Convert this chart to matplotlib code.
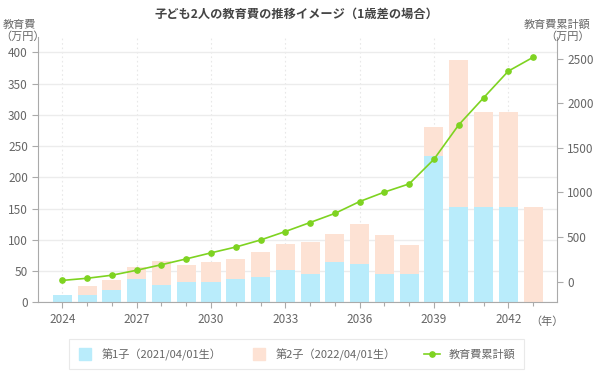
import numpy as np
import matplotlib
matplotlib.use("Agg")
import matplotlib.pyplot as plt
from matplotlib.lines import Line2D
from matplotlib.ticker import MultipleLocator

plt.rcParams['font.family'] = ['Noto Sans CJK JP', 'DejaVu Sans']

years = list(range(2024, 2044))
child1 = [11, 12, 20, 37, 27, 32, 33, 37, 41, 52,
          46, 64, 62, 46, 46, 234, 152, 152, 152, 0]
child2 = [0, 14, 15, 20, 39, 28, 32, 33, 40, 42,
          50, 46, 64, 62, 46, 46, 235, 152, 152, 152]
cumulative = [14, 38, 72, 128, 190, 255, 323, 388, 467, 562,
              663, 765, 898, 1004, 1096, 1372, 1758, 2060, 2360, 2515]

title = "子ども2人の教育費の推移イメージ（1歳差の場合）"
label1 = "第1子（2021/04/01生）"
label2 = "第2子（2022/04/01生）"
label3 = "教育費累計額"

blue = "#b9ecfb"
pink = "#fde2d4"
green = "#7ed321"
tick_col = "#666666"
spine_col = "#aaaaaa"

fig = plt.figure(figsize=(5.93, 3.77), dpi=100)
ax = fig.add_axes([0.0646, 0.198, 0.874, 0.703])
ax2 = ax.twinx()

ax.bar(years, child1, width=0.77, color=blue, zorder=2)
ax.bar(years, child2, width=0.77, bottom=child1, color=pink, zorder=2)
ax2.plot(years, cumulative, color=green, lw=1.2, marker='o', ms=3.8, zorder=3)

ax.set_xlim(2023.03, 2043.95)
ax.set_ylim(0, 424)
ax2.set_ylim(-232, 2739)

ax.set_yticks(range(0, 401, 50))
ax2.set_yticks(range(0, 2501, 500))
ax.set_xticks(range(2024, 2043, 3))
ax.xaxis.set_minor_locator(MultipleLocator(1))

ax.grid(axis='y', color='#ececec', lw=1, zorder=0)
ax.grid(axis='x', color='#e8e8e8', lw=0.8, ls=(0, (1.5, 2.5)), zorder=0)
ax.set_axisbelow(True)

for a in (ax, ax2):
    a.spines['top'].set_visible(False)
    for s in ('left', 'right', 'bottom'):
        a.spines[s].set_color(spine_col)
    a.tick_params(colors=tick_col, labelsize=8.5, length=4, width=0.8)
ax.spines['right'].set_visible(False)
ax2.spines['left'].set_visible(False)
ax2.spines['bottom'].set_visible(False)
ax.tick_params(axis='x', which='minor', length=3, width=0.8, color=spine_col)
ax.tick_params(axis='x', which='major', color=spine_col, pad=4)
ax.tick_params(axis='y', color=spine_col)
ax2.tick_params(axis='y', color=spine_col)

fig.text(0.5, 0.962, title, ha='center', va='center', fontsize=8.8,
         fontweight='bold', color='#444444')
fig.text(0.004, 0.935, "教育費", ha='left', va='center', fontsize=8, color=tick_col)
fig.text(0.0, 0.903, "（万円）", ha='left', va='center', fontsize=8, color=tick_col)
fig.text(0.995, 0.935, "教育費累計額", ha='right', va='center', fontsize=8, color=tick_col)
fig.text(0.995, 0.903, "（万円）", ha='right', va='center', fontsize=8, color=tick_col)
ax.text(2043.55, -0.053, "（年）", transform=ax.get_xaxis_transform(),
        ha='center', va='top', fontsize=8, color=tick_col)

handles = [
    Line2D([], [], marker='s', ls='', ms=9, color=blue),
    Line2D([], [], marker='s', ls='', ms=9, color=pink),
    Line2D([], [], marker='o', ls='-', ms=3.8, lw=1.2, color=green),
]
leg = fig.legend(handles, [label1, label2, label3], loc='center',
                 bbox_to_anchor=(0.5, 0.06), ncol=3, frameon=True, fancybox=False,
                 fontsize=8, handlelength=1.4, columnspacing=2.6,
                 borderpad=0.8, labelcolor=tick_col)
leg.get_frame().set_edgecolor('#e4e4e4')
leg.get_frame().set_linewidth(0.8)

fig.savefig("out.png", dpi=100)
